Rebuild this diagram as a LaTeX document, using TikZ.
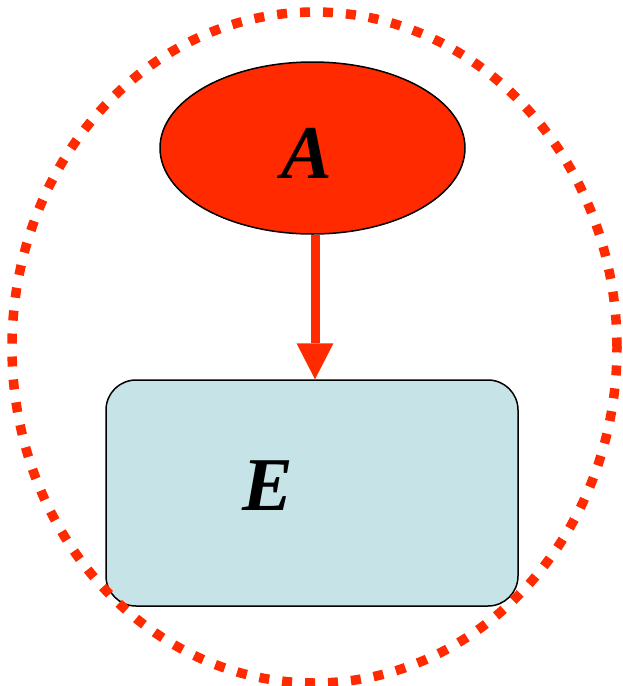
\documentclass[tikz,border=0pt]{standalone}
\usepackage{fontspec}
\setmainfont{Liberation Serif}
\usetikzlibrary{shapes.geometric,arrows.meta}
\definecolor{hotred}{HTML}{FF2A00}
\definecolor{paleblue}{HTML}{C6E4E8}
\begin{document}
\begin{tikzpicture}[x=1pt,y=-1pt,
  bigletter/.style={font=\fontsize{76}{76}\selectfont\bfseries\itshape, inner sep=0pt, anchor=base},
  enode/.style={ellipse, draw=black, line width=1.5pt, fill=hotred, minimum width=305pt, minimum height=172pt, inner sep=0pt},
  boxnode/.style={rectangle, rounded corners=30pt, draw=black, line width=1.5pt, fill=paleblue, minimum width=412pt, minimum height=226pt, inner sep=0pt},
  link/.style={draw=hotred, line width=9pt, -{Triangle[length=36pt,width=37pt,line width=0pt]}},
  ring/.style={draw=hotred, line width=9.5pt, dash pattern=on 10pt off 13pt}]
\useasboundingbox (0,0) rectangle (622,686);
\node[enode] (A) at (312.5,148) {};
\node[boxnode] (E) at (312,493) {};
\node[bigletter] (Atext) at (307,178) {A};
\node[bigletter] (Etext) at (268,510) {E};
\draw[link] ([xshift=2.5pt]A.south) -- ([xshift=3pt]E.north);
\draw[ring] (314.5,347.5) ellipse [x radius=302.5pt, y radius=335.5pt];
\end{tikzpicture}
\end{document}
